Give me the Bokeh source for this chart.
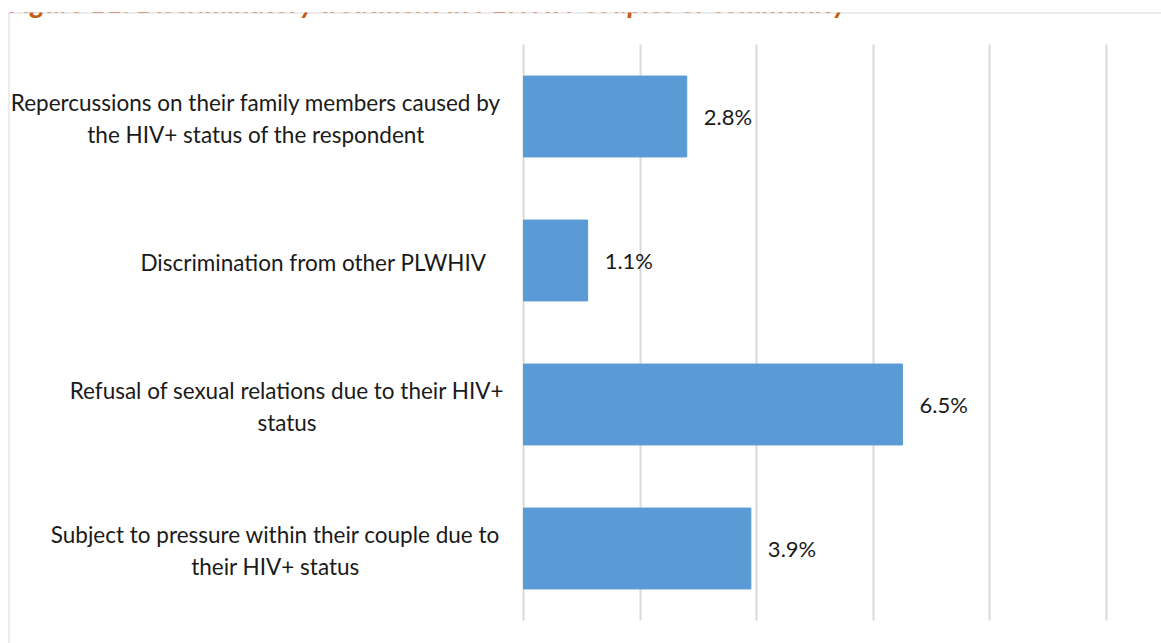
from bokeh.plotting import figure
from bokeh.models import Grid, FixedTicker, Span, Label, ColumnDataSource
from bokeh.core.properties import value
from bokeh.embed import file_html
from bokeh.resources import INLINE

# ---- data ----
title_text = "Figure 11: Discriminatory treatment in PLWHIV couples or community"
categories = [
    "Repercussions on their family members caused by\nthe HIV+ status of the respondent",
    "Discrimination from other PLWHIV",
    "Refusal of sexual relations due to their HIV+\nstatus",
    "Subject to pressure within their couple due to\ntheir HIV+ status",
]
values = [2.8, 1.1, 6.5, 3.9]
value_labels = ["2.8%", "1.1%", "6.5%", "3.9%"]
x_ticks = [0, 2, 4, 6, 8, 10]

# ---- layout ----
W, H = 1161, 643
frame_left, frame_top = 8, 12
px0, px10 = 523, 1106
ppu = (px10 - px0) / 10.0
band_top, band_bot = 44, 620
n = len(categories)
band = (band_bot - band_top) / n
x_start = (frame_left - px0) / ppu
x_end = (W - px0) / ppu
y_end = (n - 0.5) + (band_top - frame_top) / band
y_start = -0.5 - (H - band_bot) / band
label_centers = [255.5, 313.0, 286.5, 275.0]  # pixel centre of each label block

FONT = "Lato"
TXT = "#1a1a1a"
ypos = [n - 1 - i for i in range(n)]
src = ColumnDataSource(dict(
    y=ypos, v=values, vl=value_labels, cat=categories,
    off=[c - px0 for c in label_centers],
))

p = figure(width=W, height=H, output_backend="svg", toolbar_location=None,
           x_range=(x_start, x_end), y_range=(y_start, y_end),
           x_axis_location=None, y_axis_location=None,
           min_border_left=frame_left, min_border_top=frame_top,
           min_border_right=0, min_border_bottom=0,
           outline_line_color=None, background_fill_color="white",
           border_fill_color="white")
for g in p.grid:
    g.visible = False

p.add_layout(Grid(dimension=0, ticker=FixedTicker(ticks=x_ticks),
                  cross_bounds=(-0.5, n - 0.5),
                  grid_line_color="#d9d9d9", grid_line_width=2))

p.hbar(y="y", left=0, right="v", height=1 / 1.78, source=src,
       fill_color="#5B9BD5", line_color="#5B9BD5")

p.text(x="v", y="y", text="vl", source=src, x_offset=17,
       text_align="left", text_baseline="middle",
       text_font=value(FONT), text_font_size="22px", text_color=TXT)

p.text(x=0, y="y", text="cat", source=src, x_offset="off", y_offset=2,
       text_align="center", text_baseline="middle", text_line_height=1.15,
       text_font=value(FONT), text_font_size="22.5px", text_color=TXT)

p.add_layout(Span(location=x_start, dimension="height",
                  line_color="#d9d9d9", line_width=2))
p.add_layout(Span(location=y_end, dimension="width",
                  line_color="#d9d9d9", line_width=2))

p.add_layout(Label(x=0, y=642, x_units="screen", y_units="screen",
                   text=title_text, text_font=FONT, text_font_size="28.5px",
                   text_font_style="bold italic", text_color="#C55A11",
                   text_baseline="alphabetic"))

open("out.html", "w").write(file_html(p, INLINE))
